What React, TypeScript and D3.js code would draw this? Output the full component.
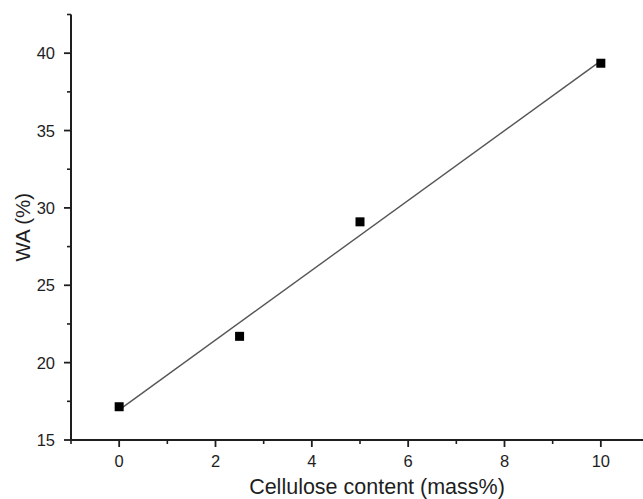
import React from "react";
import * as d3 from "d3";

const cellulose = [0, 2.5, 5, 10];
const waValues = [17.15, 21.7, 29.1, 39.35];
const fitX = [0, 10];
const fitY = [16.95, 39.5];
const xMajorTicks = [0, 2, 4, 6, 8, 10];
const xMinorTicks = [-1, 1, 3, 5, 7, 9, 11];
const yMajorTicks = [15, 20, 25, 30, 35, 40];
const yMinorTicks = [17.5, 22.5, 27.5, 32.5, 37.5, 42.5];

const W = 643;
const H = 499;
const FONT = "'Liberation Sans', Arial, Helvetica, sans-serif";

export default function App() {
  const x = d3.scaleLinear().domain([-1, 11]).range([71, 649]);
  const y = d3.scaleLinear().domain([15, 42.5]).range([440, 14.5]);
  const line = d3
    .line<number>()
    .x((_, i) => x(fitX[i]))
    .y((d) => y(d));
  const axisColor = "#1e1e1e";
  const y0 = y(15);
  const x0 = x(-1);
  return (
    <div style={{ position: "fixed", left: 0, top: 0, width: W, height: H, background: "#fff" }}>
      <svg width={W} height={H} style={{ display: "block" }} fontFamily={FONT}>
        <rect width={W} height={H} fill="#fff" />
        <path d={line(fitY) || ""} fill="none" stroke="#555" strokeWidth={1.4} />
        {cellulose.map((c, i) => (
          <rect
            key={i}
            x={x(c) - 4.5}
            y={y(waValues[i]) - 4.5}
            width={9}
            height={9}
            fill="#000"
          />
        ))}
        <line x1={x0 - 1} x2={W + 10} y1={y0} y2={y0} stroke={axisColor} strokeWidth={2} />
        <line x1={x0} x2={x0} y1={y(42.5)} y2={y0} stroke={axisColor} strokeWidth={2} />
        {xMajorTicks.map((t) => (
          <g key={"xm" + t}>
            <line x1={x(t)} x2={x(t)} y1={y0} y2={y0 + 7} stroke={axisColor} strokeWidth={1.8} />
            <text x={x(t)} y={y0 + 27} textAnchor="middle" fontSize={16.5} fill="#1e1e1e">
              {t}
            </text>
          </g>
        ))}
        {xMinorTicks.map((t) => (
          <line key={"xn" + t} x1={x(t)} x2={x(t)} y1={y0} y2={y0 + 4} stroke={axisColor} strokeWidth={1.6} />
        ))}
        {yMajorTicks.map((t) => (
          <g key={"ym" + t}>
            <line x1={x0} x2={x0 - 7} y1={y(t)} y2={y(t)} stroke={axisColor} strokeWidth={1.8} />
            <text x={x0 - 16} y={y(t) + 6} textAnchor="end" fontSize={16.5} fill="#1e1e1e">
              {t}
            </text>
          </g>
        ))}
        {yMinorTicks.map((t) => (
          <line key={"yn" + t} x1={x0} x2={x0 - 4} y1={y(t)} y2={y(t)} stroke={axisColor} strokeWidth={1.6} />
        ))}
        <text x={377} y={494} textAnchor="middle" fontSize={21.5} fill="#1e1e1e">
          Cellulose content (mass%)
        </text>
        <text
          transform={`translate(30, ${(y0 + y(42.5)) / 2}) rotate(-90)`}
          textAnchor="middle"
          fontSize={20.5}
          fill="#1e1e1e"
        >
          WA (%)
        </text>
      </svg>
    </div>
  );
}
